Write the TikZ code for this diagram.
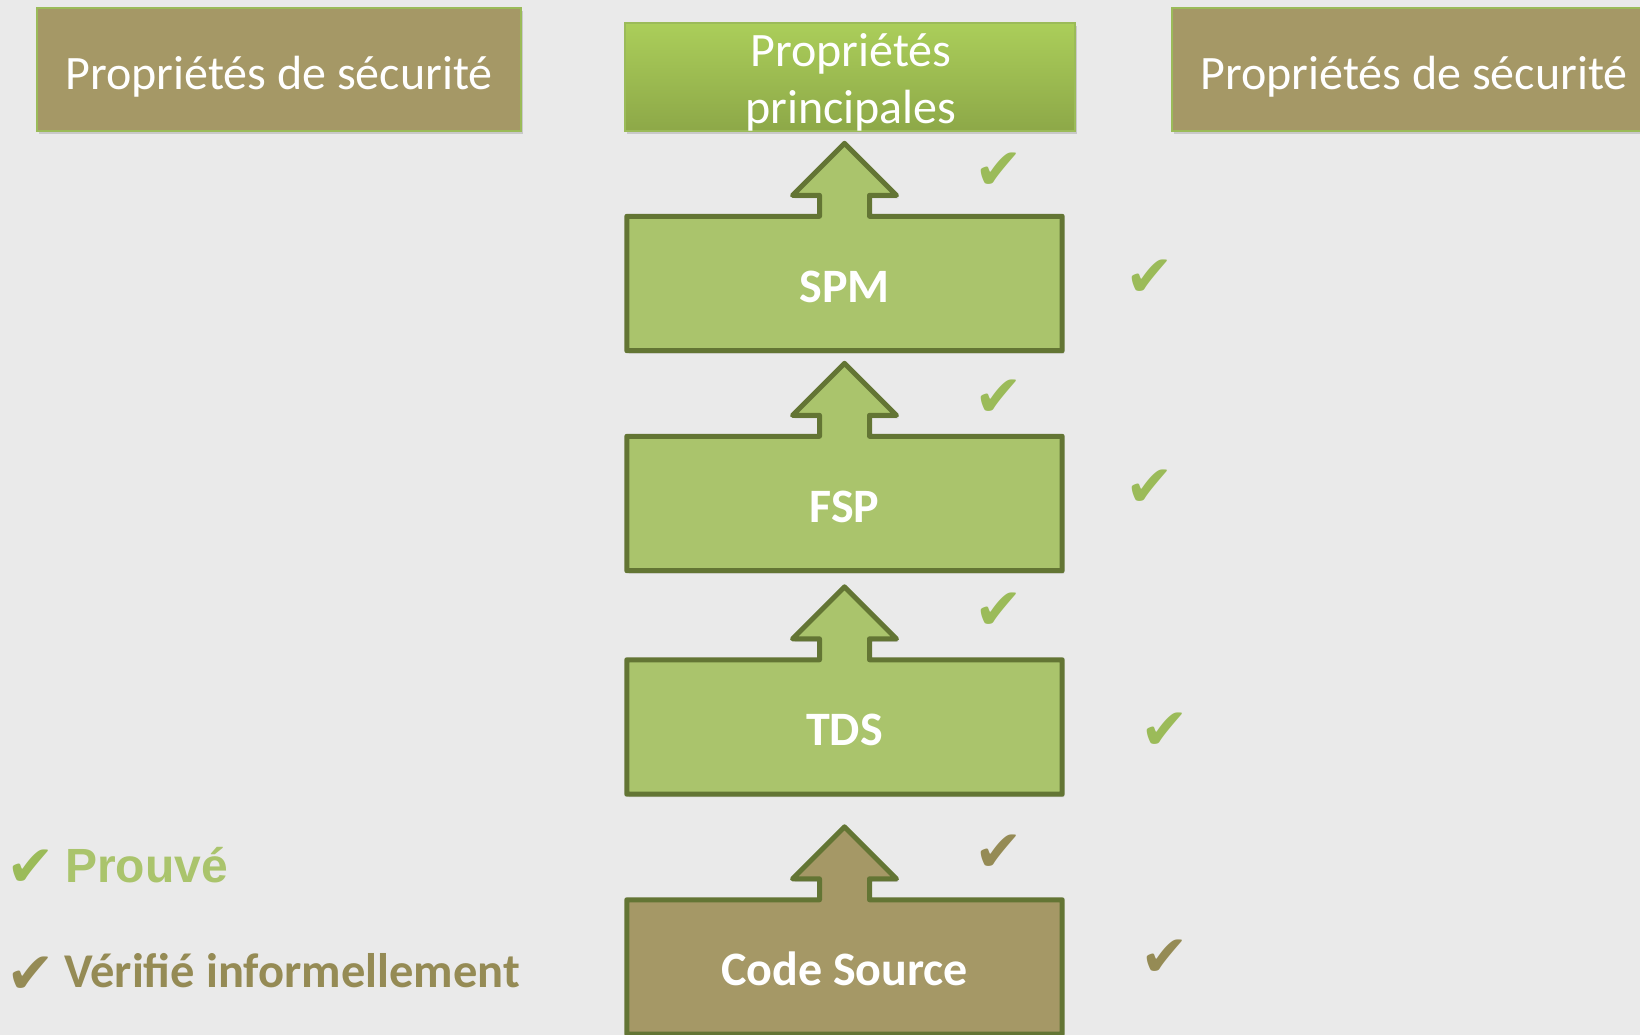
\documentclass[tikz,border=0pt]{standalone}
\usepackage{fontspec}
\setmainfont{Carlito}
\newfontfamily\arialfont{Liberation Sans}
\newfontfamily\checkfont{DejaVu Sans}
\usepackage{tikz}
\usetikzlibrary{backgrounds,shadows}
\definecolor{pagebg}{RGB}{234,234,234}
\definecolor{olivefill}{RGB}{165,152,102}
\definecolor{leaffill}{RGB}{170,196,108}
\definecolor{leafedge}{RGB}{99,117,52}
\definecolor{lightedge}{RGB}{155,187,89}
\definecolor{checkgreen}{RGB}{155,187,89}
\definecolor{checkolive}{RGB}{149,139,85}
\definecolor{titletop}{RGB}{171,206,90}
\definecolor{titlebot}{RGB}{141,168,72}
\tikzset{
  propbox/.style={fill=olivefill,draw=lightedge,line width=2pt,minimum width=484pt,
    minimum height=123pt,inner sep=0pt,text=white,font=\fontsize{48}{58}\selectfont,
    text height=40pt,text depth=0pt,
    drop shadow={opacity=0.3,shadow xshift=2pt,shadow yshift=-3pt}},
  mainbox/.style={top color=titletop,bottom color=titlebot,draw=lightedge,line width=2pt,
    minimum width=450pt,minimum height=108pt,inner sep=0pt,
    drop shadow={opacity=0.3,shadow xshift=2pt,shadow yshift=-3pt}},
  layer/.style={minimum width=435pt,minimum height=134pt,inner sep=0pt,text=white,
    text height=37pt,text depth=0pt,font=\fontsize{48}{58}\selectfont\bfseries},
  outline/.style={line width=5pt,draw=leafedge,line join=round,fill=#1,
    drop shadow={opacity=0.25,shadow xshift=2pt,shadow yshift=-3pt}},
  tick/.style={font=\checkfont\fontsize{58}{58}\selectfont,inner sep=0pt,yshift=-4pt}
}

\begin{document}
\begin{tikzpicture}[x=1pt,y=-1pt]
  \useasboundingbox (0,0) rectangle (1640,1035);
  \node[propbox] (secl) at (279,69.5) {Propriétés de sécurité};
  \node[mainbox] (main) at (850,77) {};
  \node[text=white,align=center,inner sep=0pt,font=\fontsize{48}{57}\selectfont]
    (mainlbl) at (851,82) {Propriétés\\principales};
  \node[propbox] (secr) at (1414,69.5) {Propriétés de sécurité};
  \node[layer] (spm) at (844.5,283.5) {SPM};
  \node[layer] (fsp) at (844.5,503.5) {FSP};
  \node[layer] (tds) at (844.5,727) {TDS};
  \node[layer] (src) at (844.5,967) {Code Source};
  \begin{scope}[on background layer]
    \fill[pagebg] (0,0) rectangle (1640,1035);
    \foreach \n/\c in {spm/leaffill,fsp/leaffill,tds/leaffill,src/olivefill}
      \draw[outline=\c] (\n.south west) -- (\n.north west) -- ([xshift=-25pt]\n.north)
        -- ([xshift=-25pt,yshift=21pt]\n.north) -- ([xshift=-52pt,yshift=21pt]\n.north)
        -- ([yshift=73pt]\n.north) -- ([xshift=52pt,yshift=21pt]\n.north)
        -- ([xshift=25pt,yshift=21pt]\n.north) -- ([xshift=25pt]\n.north)
        -- (\n.north east) -- (\n.south east) -- cycle;
  \end{scope}
  \node[tick,text=checkgreen] (c1) at (999,167) {✔};
  \node[tick,text=checkgreen] (c2) at (1150,274) {✔};
  \node[tick,text=checkgreen] (c3) at (999,394) {✔};
  \node[tick,text=checkgreen] (c4) at (1150,484) {✔};
  \node[tick,text=checkgreen] (c5) at (999,607) {✔};
  \node[tick,text=checkgreen] (c6) at (1165,727) {✔};
  \node[tick,text=checkolive] (c7) at (999,849) {✔};
  \node[tick,text=checkolive] (c8) at (1165,954) {✔};
  \node[tick,text=checkgreen] (k1) at (31,864) {✔};
  \node[tick,text=checkolive] (k2) at (31,971) {✔};
  \node[anchor=base west,inner sep=0pt,text=leaffill,font=\arialfont\fontsize{48}{58}\selectfont\bfseries]
    (proved) at (65,882) {Prouvé};
  \node[anchor=base west,inner sep=0pt,text=checkolive,font=\fontsize{48.5}{58}\selectfont\bfseries]
    (checked) at (64,987) {Vérifié informellement};
\end{tikzpicture}
\end{document}
